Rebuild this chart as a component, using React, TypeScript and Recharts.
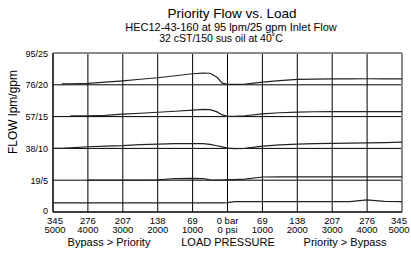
import React from "react";
import {
  LineChart,
  Line,
  XAxis,
  YAxis,
  CartesianGrid,
  ReferenceLine,
} from "recharts";

// Load pressure in psi: negative = Bypass > Priority side, positive = Priority > Bypass side
const pressure = [
  -5000, -4750, -4500, -4000, -3500, -3000, -2500, -2000, -1500, -1000, -700, -500, -300, -150,
  0, 200, 500, 1000, 1500, 2000, 2500, 3000, 3500, 4000, 4500, 5000,
];

const flowA: (number | null)[] = [
  null, 76.5, 76.6, 76.9, 77.6, 78.4, 79.3, 80.2, 81.4, 82.6, 83.0, 82.9, 80.5, 77.0,
  76.3, 76.2, 76.4, 77.6, 78.5, 79.3, 79.4, 79.5, 79.5, 79.6, 79.6, 79.6,
];
const flowB: (number | null)[] = [
  null, null, 57.4, 57.5, 57.7, 58.5, 59.0, 59.6, 60.2, 60.9, 61.3, 61.2, 59.8, 58.0,
  57.2, 57.2, 57.5, 58.6, 59.3, 59.7, 59.9, 60.0, 60.0, 60.0, 60.0, 60.0,
];
const flowC: (number | null)[] = [
  38.0, 38.0, 38.3, 39.0, 39.3, 39.6, 40.2, 40.6, 40.8, 40.9, 40.8, 40.4, 39.6, 38.9,
  38.2, 37.9, 38.0, 39.4, 40.1, 40.6, 40.8, 41.0, 41.1, 41.3, 41.5, 41.7,
];
const flowD: (number | null)[] = [
  null, null, null, 19.1, 19.1, 19.1, 19.1, 19.2, 20.0, 20.1, 20.0, 19.2, 19.1, 19.1,
  19.3, 19.4, 19.6, 20.9, 21.0, 21.0, 21.0, 21.0, 21.0, 21.0, 21.0, 21.0,
];
const flowE: (number | null)[] = [
  5.5, 5.5, 5.5, 5.5, 5.5, 5.5, 5.5, 5.5, 5.5, 5.5, 5.5, 5.5, 5.5, 5.5,
  5.6, 6.2, 6.2, 6.2, 6.2, 6.2, 6.2, 6.2, 6.2, 7.2, 6.3, 6.2,
];

const xTicks = [-5000, -4000, -3000, -2000, -1000, 0, 1000, 2000, 3000, 4000, 5000];
const barLabels = ["345", "276", "207", "138", "69", "0 bar", "69", "138", "207", "276", "345"];
const psiLabels = ["5000", "4000", "3000", "2000", "1000", "0 psi", "1000", "2000", "3000", "4000", "5000"];

const yTicks = [0, 19, 38, 57, 76, 95];
const yLabels = ["0", "19/5", "38/10", "57/15", "76/20", "95/25"];

const title = "Priority Flow vs. Load";
const subtitle1 = "HEC12-43-160 at 95 lpm/25 gpm Inlet Flow";
const subtitle2 = "32 cST/150 sus oil at 40˚C";
const yTitle = "FLOW lpm/gpm";
const bottomLabels = ["Bypass > Priority", "LOAD PRESSURE", "Priority > Bypass"];

const data = pressure.map((p, i) => ({
  p,
  a: flowA[i],
  b: flowB[i],
  c: flowC[i],
  d: flowD[i],
  e: flowE[i],
}));

const FONT = "'Liberation Sans', Arial, Helvetica, sans-serif";

const XTick = (props: any) => {
  const { x, y, payload } = props;
  const idx = xTicks.indexOf(payload.value);
  const shift = idx === xTicks.length - 1 ? -3 : idx === 0 ? 2 : 0;
  const tx = x + shift;
  return (
    <g>
      <text x={tx} y={y + 6.5} textAnchor="middle" fontSize={9.5} fill="#000" fontFamily={FONT}>
        {barLabels[idx]}
      </text>
      <text x={tx} y={y + 16} textAnchor="middle" fontSize={9.5} fill="#000" fontFamily={FONT}>
        {psiLabels[idx]}
      </text>
    </g>
  );
};

const YTick = (props: any) => {
  const { x, y, payload } = props;
  const idx = yTicks.indexOf(payload.value);
  const dy = idx === 0 ? "0.25em" : "0.4em";
  return (
    <text x={x} y={y} dy={dy} textAnchor="end" fontSize={9} fill="#000" fontFamily={FONT}>
      {yLabels[idx]}
    </text>
  );
};

const seriesKeys = ["a", "b", "c", "d", "e"];

export default function App() {
  return (
    <div style={{ position: "absolute", left: 0, top: 0, width: 411, height: 259, background: "#fff" }}>
      <LineChart
        width={411}
        height={259}
        data={data}
        margin={{ top: 53, right: 9, bottom: 17, left: 8 }}
      >
        <CartesianGrid stroke="#000" strokeWidth={1} horizontal vertical />
        <XAxis
          dataKey="p"
          type="number"
          domain={[-5000, 5000]}
          ticks={xTicks}
          tick={<XTick />}
          tickSize={0}
          tickMargin={5}
          height={30}
          axisLine={{ stroke: "#000" }}
          tickLine={false}
          interval={0}
        />
        <YAxis
          type="number"
          domain={[0, 95]}
          ticks={yTicks}
          tick={<YTick />}
          tickSize={0}
          tickMargin={5}
          width={45}
          axisLine={{ stroke: "#000" }}
          tickLine={false}
          interval={0}
        />
        <ReferenceLine y={95} stroke="#8a8a8a" strokeWidth={2} />
        <ReferenceLine x={5000} stroke="#8a8a8a" strokeWidth={2} />
        {seriesKeys.map((k) => (
          <Line
            key={k}
            dataKey={k}
            type="linear"
            stroke="#222"
            strokeWidth={1.2}
            dot={false}
            activeDot={false}
            connectNulls={false}
            isAnimationActive={false}
          />
        ))}
      </LineChart>
      <svg
        width={411}
        height={259}
        style={{ position: "absolute", left: 0, top: 0, pointerEvents: "none" }}
      >
        <g fontFamily={FONT} fill="#000">
          <text x={232} y={18} textAnchor="middle" fontSize={13.5}>{title}</text>
          <text x={231} y={30.5} textAnchor="middle" fontSize={11}>{subtitle1}</text>
          <text x={221} y={42} textAnchor="middle" fontSize={10.5}>{subtitle2}</text>
          <text
            x={16.5}
            y={112}
            textAnchor="middle"
            fontSize={12}
            transform="rotate(-90 16.5 112)"
          >
            {yTitle}
          </text>
          <text x={109} y={246} textAnchor="middle" fontSize={11}>{bottomLabels[0]}</text>
          <text x={228} y={246} textAnchor="middle" fontSize={11}>{bottomLabels[1]}</text>
          <text x={345} y={246} textAnchor="middle" fontSize={11}>{bottomLabels[2]}</text>
        </g>
      </svg>
    </div>
  );
}
